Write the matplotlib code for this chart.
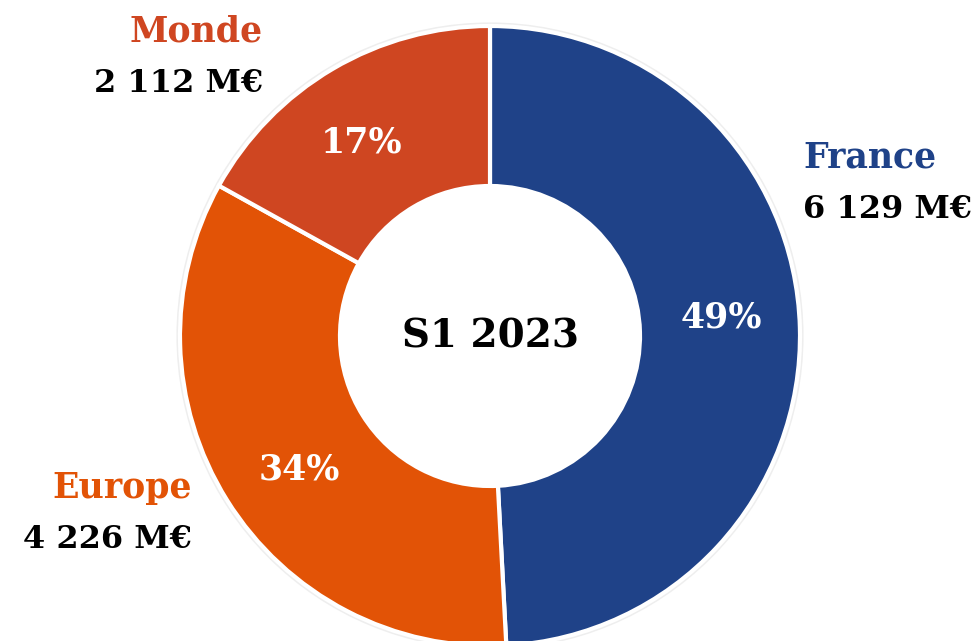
import numpy as np
import matplotlib.pyplot as plt
from matplotlib.patches import Circle

# données
regions = ['France', 'Europe', 'Monde']
montants = [6129, 4226, 2112]
montants_txt = ['6 129 M€', '4 226 M€', '2 112 M€']
couleurs = ['#1f4288', '#e25306', '#cf4621']
couleurs_txt = ['#1f4288', '#e25306', '#cf4621']
centre_txt = 'S1 2023'

fig = plt.figure(figsize=(9.76, 6.41), dpi=100)
ax = fig.add_axes([0, 0, 1, 1])

cx, cy, R = 490, 305, 310

# bord gris léger autour de l'anneau
ax.add_patch(Circle((cx, cy), R + 1.5, facecolor='none', edgecolor='#eeeeee', lw=3, zorder=0))

wedges, texts, autotexts = ax.pie(
    montants, colors=couleurs, center=(cx, cy), radius=R,
    startangle=90, counterclock=False,
    autopct=lambda p: f'{p:.0f}%', pctdistance=0.75,
    wedgeprops=dict(width=160, edgecolor='white', linewidth=3),
    textprops=dict(color='white', fontsize=25, family='DejaVu Serif', fontweight='bold'),
    frame=True)
ax.set_xlim(0, 976)
ax.set_ylim(0, 641)
ax.set_aspect('equal')
ax.axis('off')

# petit décalage angulaire des pourcentages (comme sur l'original)
a = np.radians(3)
for t in autotexts:
    x, y = t.get_position()
    dx, dy = x - cx, y - cy
    t.set_position((cx + dx * np.cos(a) - dy * np.sin(a), cy + dx * np.sin(a) + dy * np.cos(a)))

ax.text(cx, cy - 1, centre_txt, ha='center', va='center', fontsize=28,
        family='DejaVu Serif', fontweight='bold')

# étiquettes des régions
pos = {'France': (803, 641 - 158, 'left'),
       'Europe': (192, 641 - 488, 'right'),
       'Monde': (263, 641 - 31, 'right')}
for i, r in enumerate(regions):
    x, y, ha = pos[r]
    ax.text(x, y, r, ha=ha, va='center', fontsize=25, family='DejaVu Serif',
            fontweight='bold', color=couleurs_txt[i])
    ax.text(x, y - 52, montants_txt[i], ha=ha, va='center', fontsize=23,
            family='DejaVu Serif', fontweight='bold', color='black')

fig.savefig('out.png', dpi=100)
